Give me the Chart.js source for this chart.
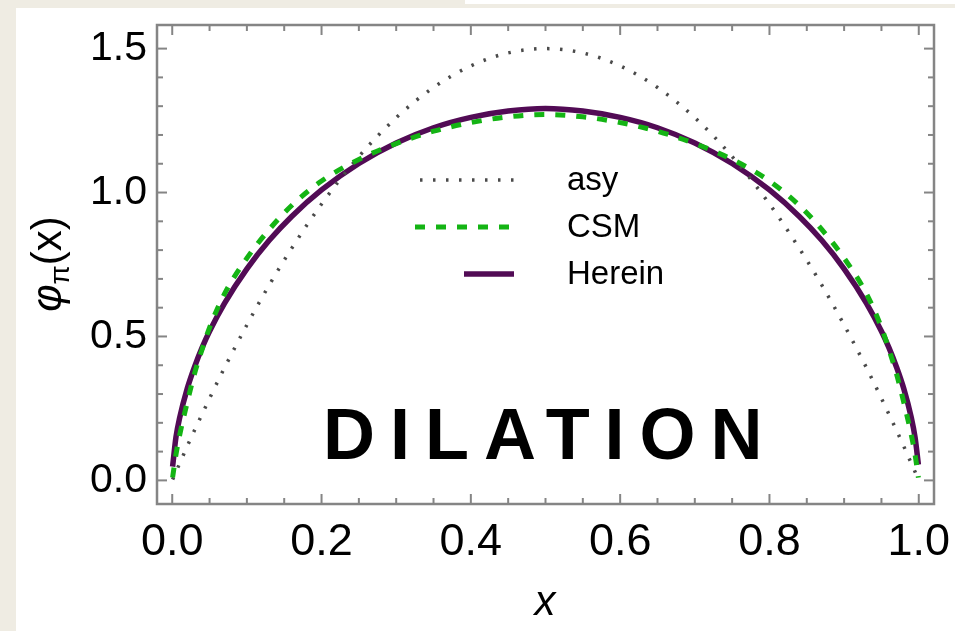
<!DOCTYPE html>
<html>
<head>
<meta charset="utf-8">
<script src="https://cdn.jsdelivr.net/npm/chart.js@4.4.1/dist/chart.umd.min.js"></script>
<style>
  html, body { margin: 0; padding: 0; width: 955px; height: 631px; overflow: hidden; background: #efece3; }
  .strip { position: absolute; left: 465px; top: 0; width: 490px; height: 4px; background: #fff; }
  .panel { position: absolute; left: 16px; top: 8px; width: 939px; height: 623px; background: #fff; }
  canvas { position: absolute; left: 0; top: 0; }
</style>
</head>
<body>
<div class="strip"></div>
<div class="panel"></div>
<canvas id="chart" width="955" height="631"></canvas>
<script>
// ── Data ─────────────────────────────────────────────────────────
const X_VALS = [
  0.0005, 0.005, 0.01, 0.02, 0.03, 0.04, 0.05, 0.07, 0.1, 0.13, 0.16, 0.2,
  0.25, 0.3, 0.35, 0.4, 0.45, 0.5, 0.55, 0.6, 0.65, 0.7, 0.75, 0.8,
  0.84, 0.87, 0.9, 0.93, 0.95, 0.96, 0.97, 0.98, 0.99, 0.995, 0.9995
];

const ASY = [
  0.003, 0.030, 0.059, 0.118, 0.175, 0.230, 0.285, 0.391, 0.540, 0.679, 0.806, 0.960,
  1.125, 1.260, 1.365, 1.440, 1.485, 1.500, 1.485, 1.440, 1.365, 1.260, 1.125, 0.960,
  0.806, 0.679, 0.540, 0.391, 0.285, 0.230, 0.175, 0.118, 0.059, 0.030, 0.003
];

const CSM = [
  0.010, 0.090, 0.158, 0.270, 0.372, 0.455, 0.531, 0.648, 0.772, 0.872, 0.955, 1.040,
  1.115, 1.170, 1.213, 1.243, 1.263, 1.271, 1.263, 1.243, 1.213, 1.170, 1.115, 1.040,
  0.955, 0.872, 0.772, 0.648, 0.531, 0.455, 0.372, 0.270, 0.158, 0.090, 0.010
];

const HEREIN = [
  0.048, 0.150, 0.218, 0.318, 0.395, 0.461, 0.518, 0.615, 0.735, 0.834, 0.917, 1.009,
  1.101, 1.172, 1.225, 1.261, 1.283, 1.292, 1.283, 1.261, 1.225, 1.172, 1.101, 1.009,
  0.917, 0.834, 0.735, 0.615, 0.518, 0.461, 0.395, 0.318, 0.218, 0.150, 0.055
];

const X_TICKS = [0, 0.2, 0.4, 0.6, 0.8, 1.0];
const X_MINOR = [0.05, 0.1, 0.15, 0.25, 0.3, 0.35, 0.45, 0.5, 0.55, 0.65, 0.7, 0.75, 0.85, 0.9, 0.95];
const Y_TICKS = [0, 0.5, 1.0, 1.5];
const Y_MINOR = [0.1, 0.2, 0.3, 0.4, 0.6, 0.7, 0.8, 0.9, 1.1, 1.2, 1.3, 1.4];


// ── Styles ───────────────────────────────────────────────────────
const FONT = "'Liberation Sans', Arial, sans-serif";
const C_ASY = '#4a4a4a';
const C_CSM = '#14b414';
const C_HER = '#520b55';
const C_FRAME = '#858585';

const DASH_ASY = [2.5, 10.5];
const DASH_CSM = [10, 11];

function pts(ys) {
  return X_VALS.map((x, i) => ({ x, y: ys[i] }));
}


// ── Decorations: frame, inward ticks, legend, labels ─────────────
const decor = {
  id: 'decor',
  afterDraw(chart) {
    const { ctx, chartArea: a, scales: { x, y } } = chart;
    const seg = (x1, y1, x2, y2) => {
      ctx.beginPath(); ctx.moveTo(x1, y1); ctx.lineTo(x2, y2); ctx.stroke();
    };

    ctx.save();

    // frame
    ctx.strokeStyle = C_FRAME;
    ctx.lineWidth = 2.5;
    ctx.strokeRect(a.left, a.top, a.right - a.left, a.bottom - a.top);

    // ticks on all four sides
    ctx.lineWidth = 2;
    const xt = (list, len) => list.forEach(v => {
      const px = x.getPixelForValue(v);
      seg(px, a.bottom, px, a.bottom - len);
      seg(px, a.top, px, a.top + len);
    });
    const yt = (list, len) => list.forEach(v => {
      const py = y.getPixelForValue(v);
      seg(a.left, py, a.left + len, py);
      seg(a.right, py, a.right - len, py);
    });
    xt(X_TICKS, 10); xt(X_MINOR, 6);
    yt(Y_TICKS, 10); yt(Y_MINOR, 6);

    // legend
    const legend = [
      { text: 'asy', color: C_ASY, dash: DASH_ASY, w: 3.5, x1: 420, x2: 514, y: 180 },
      { text: 'CSM', color: C_CSM, dash: DASH_CSM, w: 5, x1: 415, x2: 512, y: 227 },
      { text: 'Herein', color: C_HER, dash: [], w: 5.5, x1: 464, x2: 514, y: 274 }
    ];
    legend.forEach(item => {
      ctx.strokeStyle = item.color;
      ctx.lineWidth = item.w;
      ctx.lineCap = 'butt';
      ctx.setLineDash(item.dash);
      seg(item.x1, item.y, item.x2, item.y);
      ctx.setLineDash([]);
      ctx.fillStyle = '#000';
      ctx.font = `33px ${FONT}`;
      ctx.textAlign = 'left';
      ctx.textBaseline = 'middle';
      ctx.fillText(item.text, 567, item.y + 1);
    });

    // big label
    ctx.font = `bold 72px ${FONT}`;
    ctx.letterSpacing = '15px';
    ctx.textBaseline = 'alphabetic';
    ctx.fillStyle = '#000';
    ctx.fillText('DILATION', 323, 459);
    ctx.letterSpacing = '0px';

    // x axis title
    ctx.font = `italic 42px ${FONT}`;
    ctx.textAlign = 'center';
    ctx.textBaseline = 'middle';
    ctx.fillText('x', 545, 603);

    // y axis title: φπ(x)
    ctx.translate(47, 264);
    ctx.rotate(-Math.PI / 2);
    const big = `42px ${FONT}`, ital = `italic 42px ${FONT}`, small = `28px ${FONT}`;
    ctx.font = ital; const w1 = ctx.measureText('φ').width;
    ctx.font = small; const w2 = ctx.measureText('π').width;
    ctx.font = big; const w3 = ctx.measureText('(x)').width;
    let cx = -(w1 + w2 + w3) / 2;
    ctx.textAlign = 'left';
    ctx.textBaseline = 'alphabetic';
    ctx.font = ital; ctx.fillText('φ', cx, 14); cx += w1;
    ctx.font = small; ctx.fillText('π', cx, 22); cx += w2;
    ctx.font = big; ctx.fillText('(x)', cx, 14);

    ctx.restore();
  }
};


// ── Chart ────────────────────────────────────────────────────────
Chart.defaults.font.family = FONT;

new Chart(document.getElementById('chart'), {
  type: 'scatter',
  data: {
    datasets: [
      {
        label: 'CSM', data: pts(CSM), showLine: true,
        borderColor: C_CSM, borderWidth: 5, borderDash: DASH_CSM,
        pointRadius: 0, cubicInterpolationMode: 'monotone'
      },
      {
        label: 'asy', data: pts(ASY), showLine: true,
        borderColor: C_ASY, borderWidth: 3.5, borderDash: DASH_ASY,
        pointRadius: 0, cubicInterpolationMode: 'monotone'
      },
      {
        label: 'Herein', data: pts(HEREIN), showLine: true,
        borderColor: C_HER, borderWidth: 5.5,
        pointRadius: 0, cubicInterpolationMode: 'monotone'
      }
    ]
  },
  options: {
    responsive: false,
    animation: false,
    layout: { padding: { top: 25, right: 21, left: 0, bottom: 0 } },
    plugins: { legend: { display: false }, tooltip: { enabled: false } },
    scales: {
      x: {
        type: 'linear',
        min: -0.0204,
        max: 1.0204,
        afterBuildTicks: s => { s.ticks = X_TICKS.map(v => ({ value: v })); },
        afterFit: s => { s.height = 127; s.paddingLeft = 0; s.paddingRight = 0; },
        grid: { display: false, drawTicks: false },
        border: { display: false },
        ticks: {
          color: '#000', font: { size: 45 }, padding: 12,
          maxRotation: 0, autoSkip: false,
          callback: v => v.toFixed(1)
        }
      },
      y: {
        type: 'linear',
        min: -0.082,
        max: 1.582,
        afterBuildTicks: s => { s.ticks = Y_TICKS.map(v => ({ value: v })); },
        afterFit: s => { s.width = 157; s.paddingTop = 0; s.paddingBottom = 0; },
        grid: { display: false, drawTicks: false },
        border: { display: false },
        ticks: {
          color: '#000', font: { size: 41 }, padding: 10,
          autoSkip: false,
          callback: v => v.toFixed(1)
        }
      }
    }
  },
  plugins: [decor]
});
</script>
</body>
</html>
